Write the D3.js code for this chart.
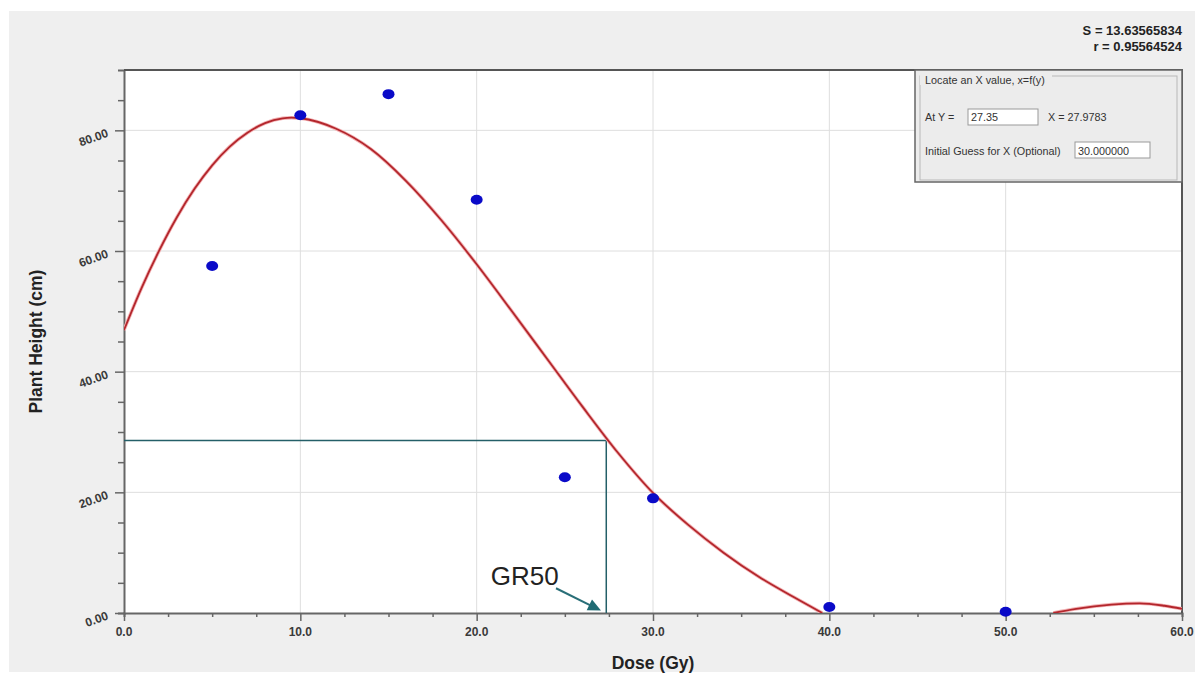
<!DOCTYPE html>
<html>
<head>
<meta charset="utf-8">
<script src="https://cdn.jsdelivr.net/npm/d3@7"></script>
<style>
    body { margin: 0; background: #fff; }
    svg { display: block; font-family: "Liberation Sans", Arial, sans-serif; }
    .tick-label { font-size: 12px; font-weight: bold; fill: #3a3a3a; }
    .axis-title { font-size: 17.5px; font-weight: bold; fill: #222; }
    .dlg { font-size: 10.8px; fill: #333; }
</style>
</head>
<body>
<div id="chart"></div>
<script>
const width = 1195;
const height = 678;

// measured points
const doses = [5, 10, 15, 20, 25, 30, 40, 50];
const heights = [57.5, 82.5, 86, 68.5, 22.5, 19, 1, 0.2];

// fitted curve (null = below the axis, clipped)
const curveX = [0, 1, 2, 3, 4, 5, 6, 7, 8, 9, 9.5, 10, 12, 14, 16, 18, 20, 22, 24, 26, 28, 30, 32, 34, 36, 38, 39.6, 46, 52.7, 54, 56, 57.6, 59, 60];
const curveY = [46.9, 53.9, 60.1, 65.6, 70.3, 74.2, 77.3, 79.6, 81.2, 82.0, 82.1, 82.0, 80.3, 76.9, 71.6, 65.1, 57.8, 50.0, 42.1, 34.2, 26.6, 19.9, 14.6, 10.0, 6.0, 2.6, 0, null, 0, 0.7, 1.4, 1.6, 1.2, 0.7];

const xTicks = [0, 10, 20, 30, 40, 50, 60];
const yTicks = [0, 20, 40, 60, 80];

const gr50 = { x: 27.35, y: 28.6 };
const statLines = ["S = 13.63565834", "r = 0.95564524"];

const margin = { left: 124, right: 13, top: 70, bottom: 65 };

const x = d3.scaleLinear().domain([0, 60]).range([margin.left, width - margin.right]);
const y = d3.scaleLinear().domain([0, 90]).range([height - margin.bottom, margin.top]);

const svg = d3.select("#chart")
    .append("svg")
    .attr("width", width)
    .attr("height", height);

// gray window panel
svg.append("rect")
    .attr("x", 9).attr("y", 11)
    .attr("width", width - 9).attr("height", height - 17)
    .attr("fill", "#efefef");

// plot area
svg.append("rect")
    .attr("x", x(0)).attr("y", y(90))
    .attr("width", x(60) - x(0)).attr("height", y(0) - y(90))
    .attr("fill", "#fff");

// grid
const grid = svg.append("g").attr("stroke", "#dedede").attr("stroke-width", 1);
grid.selectAll("line.v")
    .data(xTicks.slice(1, -1))
    .join("line")
    .attr("x1", d => x(d)).attr("x2", d => x(d))
    .attr("y1", y(0)).attr("y2", y(90));
grid.selectAll("line.h")
    .data(yTicks.slice(1))
    .join("line")
    .attr("x1", x(0)).attr("x2", x(60))
    .attr("y1", d => y(d)).attr("y2", d => y(d));

// axes
const xAxis = svg.append("g")
    .attr("transform", `translate(0,${y(0)})`)
    .call(d3.axisBottom(x).tickValues(d3.range(0, 60.1, 2.5)).tickSize(4).tickFormat(""));
const yAxis = svg.append("g")
    .attr("transform", `translate(${x(0)},0)`)
    .call(d3.axisLeft(y).tickValues(d3.range(0, 86, 5)).tickSize(6).tickFormat(""));
[xAxis, yAxis].forEach(a => {
    a.select(".domain").attr("stroke", "#666").attr("stroke-width", 2);
    a.selectAll(".tick line").attr("stroke", "#666").attr("stroke-width", 1.5);
});
xAxis.selectAll(".tick line").filter(d => d % 10 === 0).attr("y2", 8);
yAxis.selectAll(".tick line").filter(d => d % 20 === 0).attr("x2", -9);

// top and right frame
svg.append("path")
    .attr("d", `M${x(0)},${y(90)}H${x(60)}V${y(0)}`)
    .attr("fill", "none")
    .attr("stroke", "#555")
    .attr("stroke-width", 2);

// tick labels
svg.append("g").selectAll("text")
    .data(xTicks)
    .join("text")
    .attr("class", "tick-label")
    .attr("x", d => x(d))
    .attr("y", y(0) + 23)
    .attr("text-anchor", "middle")
    .text(d => d.toFixed(1));
svg.append("g").selectAll("text")
    .data(yTicks)
    .join("text")
    .attr("class", "tick-label")
    .attr("text-anchor", "end")
    .attr("transform", d => `translate(${x(0) - 15},${y(d) + 6}) rotate(-20)`)
    .text(d => d.toFixed(2));

// axis titles
svg.append("text")
    .attr("class", "axis-title")
    .attr("x", (x(0) + x(60)) / 2)
    .attr("y", 669)
    .attr("text-anchor", "middle")
    .text("Dose (Gy)");
svg.append("text")
    .attr("class", "axis-title")
    .attr("transform", `translate(42,${(y(0) + y(90)) / 2}) rotate(-90)`)
    .attr("text-anchor", "middle")
    .text("Plant Height (cm)");

// clip to the plot box
svg.append("clipPath").attr("id", "plot-clip")
    .append("rect")
    .attr("x", x(0)).attr("y", y(90))
    .attr("width", x(60) - x(0)).attr("height", y(0) - y(90));

const plot = svg.append("g").attr("clip-path", "url(#plot-clip)");

// GR50 guide lines
plot.append("path")
    .attr("d", `M${x(0)},${y(gr50.y)}H${x(gr50.x)}V${y(0)}`)
    .attr("fill", "none")
    .attr("stroke", "#245f68")
    .attr("stroke-width", 1.5);

// fitted curve
const curvePts = curveX.map((d, i) => [d, curveY[i]]);
const line = d3.line()
    .defined(d => d[1] !== null)
    .x(d => x(d[0]))
    .y(d => y(d[1]))
    .curve(d3.curveMonotoneX);
plot.append("path")
    .datum(curvePts)
    .attr("d", line)
    .attr("fill", "none")
    .attr("stroke", "#f3b3b5")
    .attr("stroke-width", 3.5);
plot.append("path")
    .datum(curvePts)
    .attr("d", line)
    .attr("fill", "none")
    .attr("stroke", "#b3262c")
    .attr("stroke-width", 1.8);

// data points
svg.append("g").selectAll("ellipse")
    .data(doses)
    .join("ellipse")
    .attr("cx", d => x(d))
    .attr("cy", (d, i) => y(heights[i]))
    .attr("rx", 6)
    .attr("ry", 5)
    .attr("fill", "#0a0ac8");

// GR50 annotation
svg.append("text")
    .attr("x", x(20.8))
    .attr("y", y(4.6))
    .attr("font-size", 26)
    .attr("fill", "#222")
    .text("GR50");
const aFrom = [x(24.5), y(4.1)];
const aTo = [x(27.05), y(0.4)];
const ang = Math.atan2(aTo[1] - aFrom[1], aTo[0] - aFrom[0]);
svg.append("line")
    .attr("x1", aFrom[0]).attr("y1", aFrom[1])
    .attr("x2", aTo[0] - 9 * Math.cos(ang)).attr("y2", aTo[1] - 9 * Math.sin(ang))
    .attr("stroke", "#2a6f78")
    .attr("stroke-width", 2);
svg.append("path")
    .attr("d", "M0,0L-13,-6L-13,6Z")
    .attr("transform", `translate(${aTo[0]},${aTo[1]}) rotate(${ang * 180 / Math.PI})`)
    .attr("fill", "#1f6b73");

// stats text
svg.append("g").selectAll("text")
    .data(statLines)
    .join("text")
    .attr("x", 1182)
    .attr("y", (d, i) => 35 + i * 16)
    .attr("text-anchor", "end")
    .attr("font-size", 13)
    .attr("font-weight", "bold")
    .attr("fill", "#222")
    .text(d => d);

// locate dialog
const dlg = svg.append("g");
dlg.append("rect")
    .attr("x", 915).attr("y", 70).attr("width", 267).attr("height", 112)
    .attr("fill", "#ececec").attr("stroke", "#666").attr("stroke-width", 1.5);
dlg.append("rect")
    .attr("x", 920).attr("y", 76).attr("width", 257).attr("height", 104)
    .attr("fill", "none").attr("stroke", "#b8b8b8").attr("stroke-width", 1);
dlg.append("rect")
    .attr("x", 920).attr("y", 72).attr("width", 132).attr("height", 13)
    .attr("fill", "#ececec");
dlg.append("text").attr("class", "dlg").attr("x", 925).attr("y", 84).text("Locate an X value, x=f(y)");
dlg.append("text").attr("class", "dlg").attr("x", 925).attr("y", 121).text("At Y =");
dlg.append("rect")
    .attr("x", 968).attr("y", 109).attr("width", 70).attr("height", 16)
    .attr("fill", "#fff").attr("stroke", "#999");
dlg.append("text").attr("class", "dlg").attr("x", 971).attr("y", 121).text("27.35");
dlg.append("text").attr("class", "dlg").attr("x", 1048).attr("y", 121).text("X = 27.9783");
dlg.append("text").attr("class", "dlg").attr("x", 925).attr("y", 155).text("Initial Guess for X (Optional)");
dlg.append("rect")
    .attr("x", 1075).attr("y", 142).attr("width", 75).attr("height", 16)
    .attr("fill", "#fff").attr("stroke", "#999");
dlg.append("text").attr("class", "dlg").attr("x", 1078).attr("y", 155).text("30.000000");
</script>
</body>
</html>
